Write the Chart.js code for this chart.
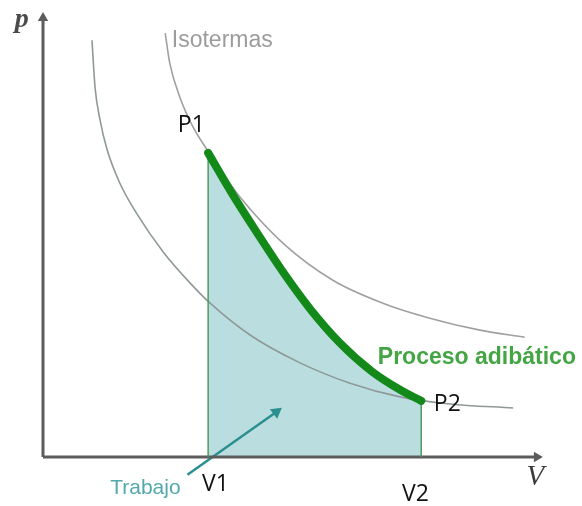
<!DOCTYPE html>
<html>
<head>
<meta charset="utf-8">
<script src="https://cdn.jsdelivr.net/npm/chart.js@4/dist/chart.umd.min.js"></script>
<style>
  html, body { margin: 0; padding: 0; background: #ffffff; }
  canvas { display: block; }
</style>
</head>
<body>
<canvas id="c" width="582" height="506"></canvas>
<script>
// ---- Data (volume V, pressure p; arbitrary units) ----
const adiabaticV = [3.27, 3.76, 4.24, 4.75, 5.29, 5.88, 6.53, 7.07, 7.49];
const adiabaticP = [6.88, 5.93, 5.07, 4.19, 3.35, 2.58, 1.92, 1.52, 1.27];

const isoHighV = [2.42, 2.51, 2.71, 2.97, 3.25, 3.54, 3.90, 4.75, 5.74, 6.73, 7.66, 8.65, 9.54];
const isoHighP = [9.59, 8.91, 8.14, 7.47, 6.95, 6.45, 5.88, 4.84, 4.00, 3.48, 3.14, 2.87, 2.71];

const isoLowV = [0.97, 1.03, 1.13, 1.27, 1.52, 1.86, 2.38, 2.91, 3.31, 4.10, 5.09, 6.08, 7.07, 8.06, 9.31];
const isoLowP = [9.43, 8.37, 7.62, 6.95, 6.20, 5.50, 4.64, 3.94, 3.48, 2.76, 2.13, 1.67, 1.36, 1.20, 1.11];

const V1 = 3.27, V2 = 7.49;
const P1 = 6.88, P2 = 1.27;

// arrow "Trabajo" (start -> tip)
const arrowV = [2.86, 4.62];
const arrowP = [-0.40, 1.02];

// text labels
const labelTexts = ["p", "V", "Isotermas", "P1", "P2", "V1", "V2", "Trabajo", "Proceso adibático"];
const labelV =     [-0.42, 9.75, 2.55, 2.67, 7.74, 3.15, 7.11, 1.33, 6.63];
const labelP =     [9.89, -0.45, 9.41, 7.51, 1.20, -0.61, -0.84, -0.70, 2.24];

const toPts = (xs, ys) => xs.map((x, i) => ({ x: x, y: ys[i] }));

// styles for labels (kept separate from data)
const labelStyles = [
  { font: 'italic bold 28px "Liberation Serif"', color: '#4a4a4a', align: 'center' },
  { font: 'italic 29px "Liberation Serif"', color: '#3a3a3a', align: 'center' },
  { font: '23px "Liberation Sans"', color: '#9c9c9c', align: 'left' },
  { font: '23px "Open Sans"', color: '#111111', align: 'left' },
  { font: '23px "Open Sans"', color: '#111111', align: 'left' },
  { font: '23px "Open Sans"', color: '#111111', align: 'left' },
  { font: '23px "Open Sans"', color: '#111111', align: 'left' },
  { font: '21px "Liberation Sans"', color: '#52a8aa', align: 'left' },
  { font: 'bold 23px "Liberation Sans"', color: '#44a544', align: 'left' }
];

const labelPlugin = {
  id: 'labels',
  afterDatasetsDraw(chart) {
    const ctx = chart.ctx;
    const xs = chart.scales.x, ys = chart.scales.y;
    ctx.save();
    labelTexts.forEach((t, i) => {
      const st = labelStyles[i];
      ctx.font = st.font;
      ctx.fillStyle = st.color;
      ctx.textAlign = st.align;
      ctx.textBaseline = 'middle';
      ctx.fillText(t, xs.getPixelForValue(labelV[i]), ys.getPixelForValue(labelP[i]));
    });
    ctx.restore();
  }
};

new Chart(document.getElementById('c'), {
  type: 'line',
  data: {
    datasets: [
      { // adiabatic process (with work area)
        data: toPts(adiabaticV, adiabaticP),
        borderColor: '#13891a',
        borderWidth: 8,
        borderCapStyle: 'round',
        fill: 'origin',
        backgroundColor: 'rgba(180,219,220,0.92)',
        cubicInterpolationMode: 'monotone',
        pointRadius: 0
      },
      { // V1 boundary
        data: [{ x: V1, y: 0 }, { x: V1, y: P1 }],
        borderColor: '#4f9a62',
        borderWidth: 1.5,
        pointRadius: 0
      },
      { // V2 boundary
        data: [{ x: V2, y: 0 }, { x: V2, y: P2 }],
        borderColor: '#4f9a62',
        borderWidth: 1.5,
        pointRadius: 0
      },
      { // x axis
        data: [{ x: 0, y: 0 }, { x: 9.78, y: 0 }],
        borderColor: '#5c5c5c',
        backgroundColor: '#5c5c5c',
        borderWidth: 3,
        pointRadius: [0, 6],
        pointStyle: 'triangle',
        rotation: 90,
        pointBorderWidth: 0
      },
      { // y axis
        data: [{ x: 0, y: 0 }, { x: 0, y: 9.93 }],
        borderColor: '#5c5c5c',
        backgroundColor: '#5c5c5c',
        borderWidth: 3,
        pointRadius: [0, 6],
        pointStyle: 'triangle',
        rotation: 0,
        pointBorderWidth: 0
      },
      { // arrow "Trabajo"
        data: toPts(arrowV, arrowP),
        borderColor: '#2b8f90',
        backgroundColor: '#2b8f90',
        borderWidth: 2.5,
        pointRadius: [0, 7],
        pointStyle: 'triangle',
        rotation: 53,
        pointBorderWidth: 0
      },
      { // higher isotherm
        data: toPts(isoHighV, isoHighP),
        borderColor: '#a0a0a0',
        borderWidth: 1.6,
        cubicInterpolationMode: 'monotone',
        pointRadius: 0
      },
      { // lower isotherm
        data: toPts(isoLowV, isoLowP),
        borderColor: '#8f9898',
        borderWidth: 1.6,
        cubicInterpolationMode: 'monotone',
        pointRadius: 0
      }
    ]
  },
  options: {
    responsive: false,
    animation: false,
    devicePixelRatio: 1,
    clip: false,
    layout: { padding: { left: 43, right: 34, top: 15, bottom: 49 } },
    scales: {
      x: { type: 'linear', min: 0, max: 10, display: false },
      y: { type: 'linear', min: 0, max: 10, display: false }
    },
    plugins: {
      legend: { display: false },
      tooltip: { enabled: false },
      filler: { drawTime: 'beforeDatasetsDraw' }
    },
    datasets: { line: { clip: false } }
  },
  plugins: [labelPlugin]
});
</script>
</body>
</html>
